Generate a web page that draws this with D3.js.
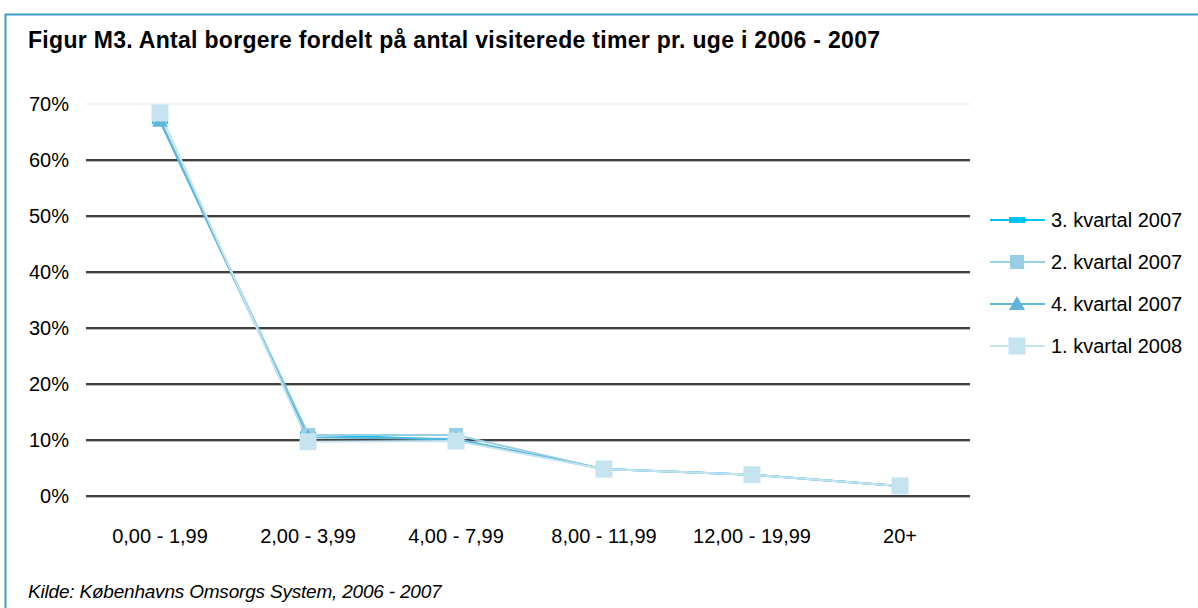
<!DOCTYPE html>
<html>
<head>
<meta charset="utf-8">
<script src="https://cdn.jsdelivr.net/npm/d3@7"></script>
<style>
  body { margin: 0; background: #fff; }
  svg { font-family: "Liberation Sans", Arial, sans-serif; }
</style>
</head>
<body>
<div id="chart"></div>
<script>
var categories = ["0,00 - 1,99", "2,00 - 3,99", "4,00 - 7,99", "8,00 - 11,99", "12,00 - 19,99", "20+"];
var seriesNames = ["3. kvartal 2007", "2. kvartal 2007", "4. kvartal 2007", "1. kvartal 2008"];
var kv3_2007 = [67.0, 11.0, 10.0, 4.8, 3.8, 1.8];
var kv2_2007 = [67.3, 10.9, 10.9, 4.8, 3.8, 1.8];
var kv4_2007 = [67.0, 10.5, 10.2, 4.8, 3.8, 1.8];
var kv1_2008 = [68.4, 9.7, 9.8, 4.8, 3.8, 1.8];
var yTicks = [0, 10, 20, 30, 40, 50, 60, 70];

var width = 1198, height = 608;
var margin = {left: 86, right: 224, top: 104, bottom: 112};

var svg = d3.select("#chart").append("svg")
    .attr("width", width).attr("height", height);

// frame
svg.append("rect")
    .attr("x", 5.5).attr("y", 14.5)
    .attr("width", 1220).attr("height", 620)
    .attr("fill", "none")
    .attr("stroke", "#3a9ec6")
    .attr("stroke-width", 2);

svg.append("text")
    .attr("x", 28).attr("y", 48)
    .style("font-size", "23px")
    .style("font-weight", "bold")
    .style("letter-spacing", "0.3px")
    .text("Figur M3. Antal borgere fordelt på antal visiterede timer pr. uge i 2006 - 2007");

var x = d3.scaleBand()
    .domain(categories)
    .range([margin.left, width - margin.right]);

var y = d3.scaleLinear()
    .domain([0, 70])
    .range([height - margin.bottom, margin.top]);

// grid
var grid = svg.append("g");
grid.selectAll("line.shadow")
    .data(yTicks.filter(function(d) { return d < 70; }))
    .enter().append("line")
    .attr("x1", margin.left).attr("x2", width - margin.right - 4)
    .attr("y1", function(d) { return y(d) + 1.5; })
    .attr("y2", function(d) { return y(d) + 1.5; })
    .attr("stroke", "#bbbbbb").attr("stroke-width", 1);
grid.selectAll("line.main")
    .data(yTicks)
    .enter().append("line")
    .attr("x1", margin.left).attr("x2", width - margin.right - 4)
    .attr("y1", function(d) { return y(d); })
    .attr("y2", function(d) { return y(d); })
    .attr("stroke", function(d) { return d == 70 ? "#e6e6e6" : "#000"; })
    .attr("stroke-width", function(d) { return d == 70 ? 1 : 1.6; });

// y labels
svg.append("g").selectAll("text")
    .data(yTicks)
    .enter().append("text")
    .attr("x", 69)
    .attr("y", function(d) { return y(d); })
    .attr("dy", "0.35em")
    .attr("text-anchor", "end")
    .style("font-size", "20px")
    .text(function(d) { return d + "%"; });

// x labels
svg.append("g").selectAll("text")
    .data(categories)
    .enter().append("text")
    .attr("x", function(d) { return x(d) + x.bandwidth() / 2; })
    .attr("y", 543)
    .attr("text-anchor", "middle")
    .style("font-size", "20px")
    .text(function(d) { return d; });

var series = [
  {name: seriesNames[0], values: kv3_2007, color: "#00c3f2", marker: "bar"},
  {name: seriesNames[1], values: kv2_2007, color: "#99cfe4", marker: "square"},
  {name: seriesNames[2], values: kv4_2007, color: "#5fb6d8", marker: "triangle"},
  {name: seriesNames[3], values: kv1_2008, color: "#c6e4f0", marker: "bigsquare"}
];

var cx = function(i) { return x(categories[i]) + x.bandwidth() / 2; };
var line = d3.line()
    .x(function(d, i) { return cx(i); })
    .y(function(d) { return y(d); });

function drawMarker(g, type, color, px, py) {
  if (type == "bar") {
    g.append("rect").attr("x", px - 8).attr("y", py - 3).attr("width", 16).attr("height", 6).attr("fill", color);
  } else if (type == "square") {
    g.append("rect").attr("x", px - 7).attr("y", py - 7).attr("width", 14).attr("height", 14).attr("fill", color);
  } else if (type == "triangle") {
    g.append("path").attr("d", "M" + px + "," + (py - 8) + "L" + (px + 8) + "," + (py + 6) + "L" + (px - 8) + "," + (py + 6) + "Z").attr("fill", color);
  } else {
    g.append("rect").attr("x", px - 8.5).attr("y", py - 8.5).attr("width", 17).attr("height", 17).attr("fill", color);
  }
}

var plot = svg.append("g");
series.forEach(function(s) {
  plot.append("path")
      .datum(s.values)
      .attr("d", line)
      .attr("fill", "none")
      .attr("stroke", s.color)
      .attr("stroke-width", 2);
});
series.forEach(function(s) {
  s.values.forEach(function(v, i) {
    drawMarker(plot, s.marker, s.color, cx(i), y(v));
  });
});

// legend
var legend = svg.append("g");
series.forEach(function(s, i) {
  var ly = 220 + i * 42;
  legend.append("line")
      .attr("x1", 990).attr("x2", 1045)
      .attr("y1", ly).attr("y2", ly)
      .attr("stroke", s.color).attr("stroke-width", 2);
  drawMarker(legend, s.marker, s.color, 1017, ly);
  legend.append("text")
      .attr("x", 1051).attr("y", ly)
      .attr("dy", "0.35em")
      .style("font-size", "20px")
      .text(s.name);
});

svg.append("text")
    .attr("x", 28).attr("y", 598)
    .style("font-size", "19px")
    .style("font-style", "italic")
    .style("letter-spacing", "-0.2px")
    .text("Kilde: Københavns Omsorgs System, 2006 - 2007");
</script>
</body>
</html>
